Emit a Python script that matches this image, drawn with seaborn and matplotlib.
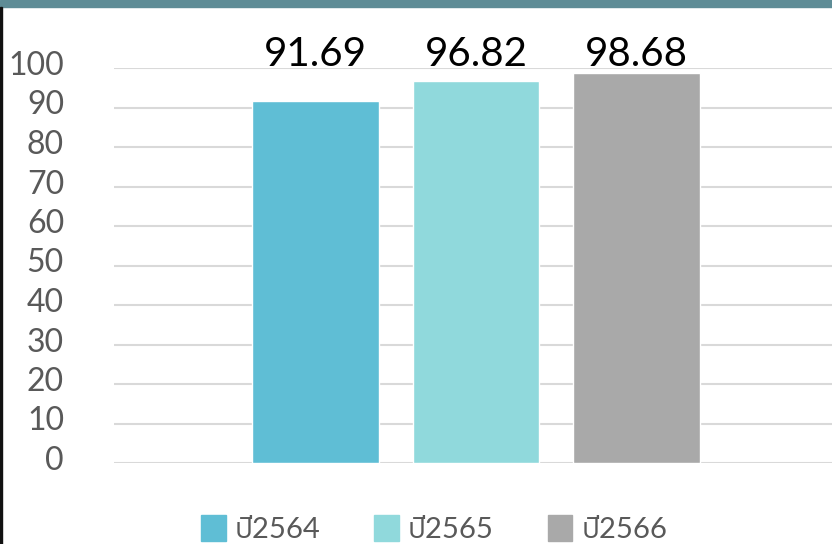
import matplotlib
matplotlib.use("Agg")
import matplotlib.pyplot as plt
import matplotlib.patches as mpatches
import matplotlib.transforms as mtransforms
from matplotlib import font_manager
import seaborn as sns
import pandas as pd

years = ["ปี2564", "ปี2565", "ปี2566"]
values = [91.69, 96.82, 98.68]
colors = ["#5fbed5", "#90d9dc", "#a9a9a9"]
yticks = list(range(0, 101, 10))

# find a font with Thai glyphs
thai_font = None
try:
    from fontTools.ttLib import TTFont
    cands = []
    for f in font_manager.fontManager.ttflist:
        try:
            tt = TTFont(f.fname, fontNumber=0, lazy=True)
            cmap = tt.getBestCmap()
            if cmap and 0x0E1B in cmap and 0x0E35 in cmap:
                cands.append(f.name)
        except Exception:
            pass
    if cands:
        pref = [c for c in cands if "Thai" in c]
        thai_font = (pref or cands)[0]
except Exception:
    pass

sns.set_theme(style="white")
fams = ["Lato"]
if thai_font:
    fams.append(thai_font)
fams.append("DejaVu Sans")
plt.rcParams["font.family"] = fams

df = pd.DataFrame({"year": years, "value": values})

fig = plt.figure(figsize=(8.32, 5.44), dpi=100)
W, H = 832, 544
ax = fig.add_axes([114 / W, (H - 463) / H, 1 - 114 / W, (463 - 68) / H])

sns.barplot(data=df, x="year", y="value", hue="year", palette=colors,
            dodge=False, width=0.79, legend=False, ax=ax, saturation=1)

ax.set_ylim(0, 100)
ax.set_xlim(-1.255, 3.218)
ax.set_yticks(yticks)
ax.set_yticklabels([str(t) for t in yticks], fontsize=23, color="#595959")
ax.tick_params(axis="y", length=0, pad=36)
shift = mtransforms.ScaledTranslation(0, 5 / 100, fig.dpi_scale_trans)
for lab in ax.get_yticklabels():
    lab.set_transform(lab.get_transform() + shift)
ax.set_xticks([])
ax.set_xlabel("")
ax.set_ylabel("")
for s in ax.spines.values():
    s.set_visible(False)
ax.yaxis.grid(True, color="#d9d9d9", linewidth=1.5)
ax.set_axisbelow(True)

for i, v in enumerate(values):
    ax.text(i, 100.5, f"{v:.2f}", ha="center", va="baseline", fontsize=29,
            color="black", clip_on=False)

handles = [mpatches.Patch(color=c, label=l) for c, l in zip(colors, years)]
fig.legend(handles=handles, loc="center", bbox_to_anchor=(434 / W, 1 - 529 / H),
           ncol=3, frameon=False, fontsize=21, handlelength=0.85, handleheight=1.0,
           handletextpad=0.3, columnspacing=1.85, labelcolor="#595959")

# frame decorations (top strip and left edge)
top = mpatches.Rectangle((0, 1 - 7 / H), 1, 7 / H, transform=fig.transFigure,
                         color="#5e8c96", zorder=10)
fig.patches.append(top)
left = mpatches.Rectangle((0, 0), 2 / W, 1 - 7 / H, transform=fig.transFigure,
                          color="#111111", zorder=10)
fig.patches.append(left)

fig.savefig("out.png", dpi=100)
